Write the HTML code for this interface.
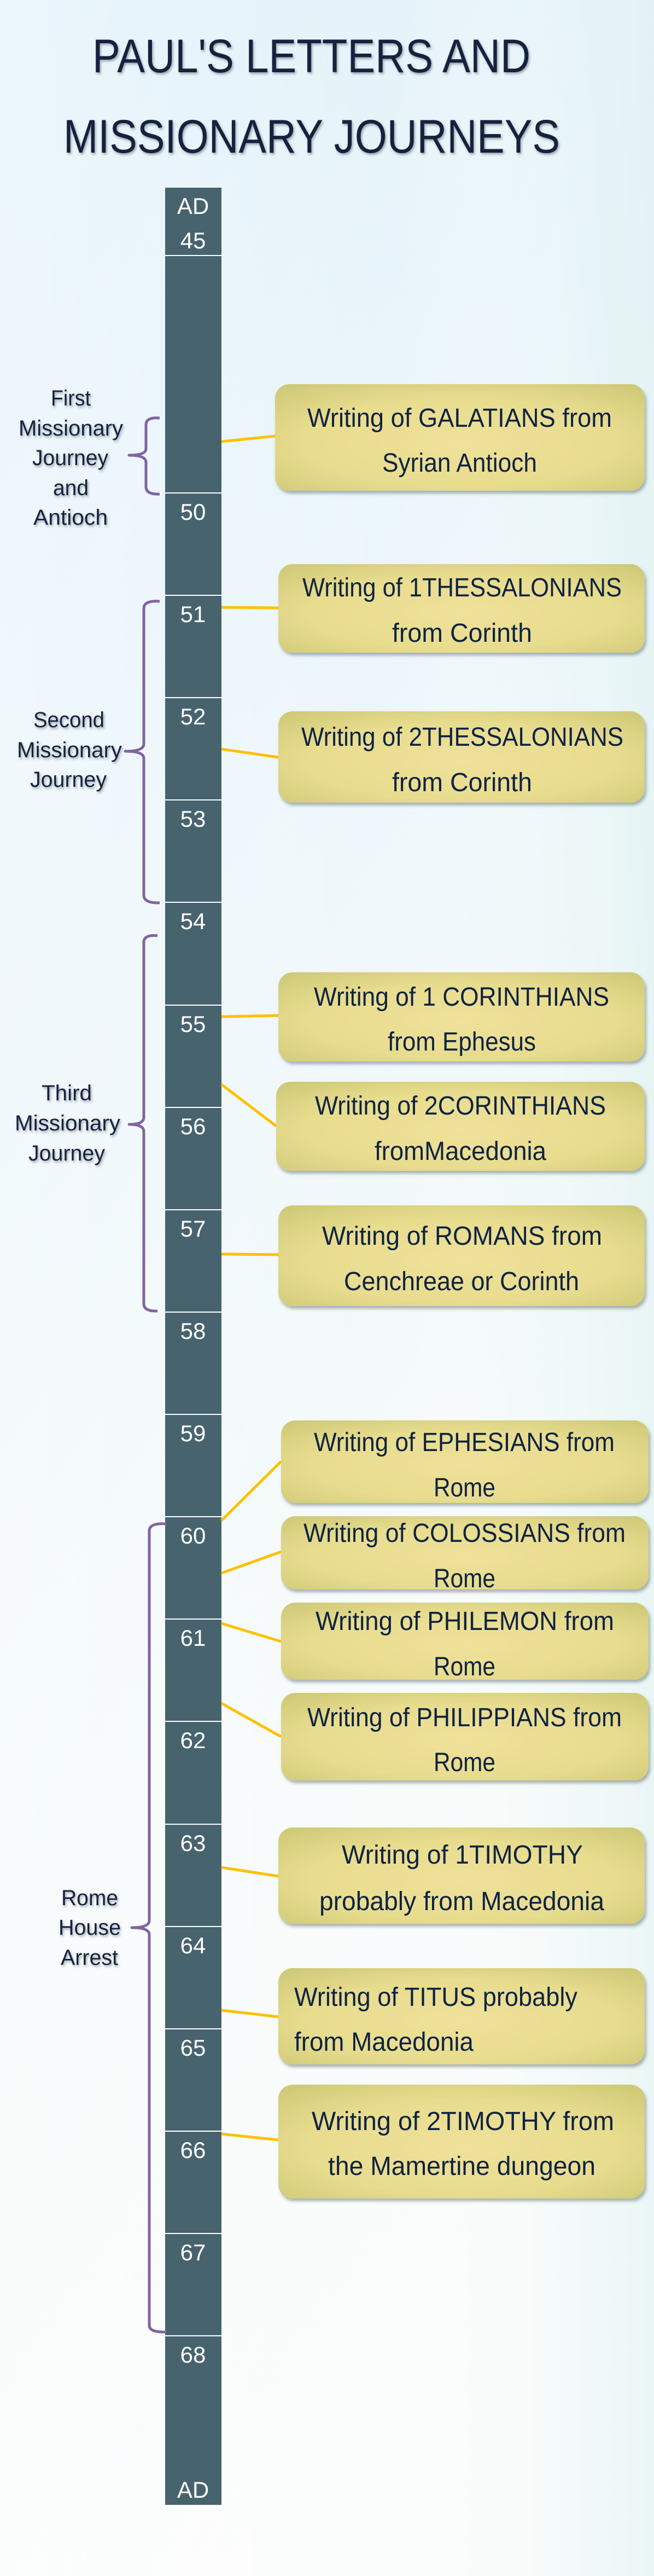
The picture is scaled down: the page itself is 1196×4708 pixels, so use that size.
<!DOCTYPE html>
<html><head><meta charset="utf-8"><style>
html,body{margin:0;padding:0}
body{width:1196px;height:4708px;overflow:hidden}
svg{display:block}
text{font-family:"Liberation Sans",sans-serif}
</style></head><body>
<svg width="1196" height="4708" viewBox="0 0 1196 4708" xmlns="http://www.w3.org/2000/svg">
<defs>
<linearGradient id="bg" x1="0" y1="0" x2="0.35" y2="1">
<stop offset="0" stop-color="#dff0fa"/>
<stop offset="0.45" stop-color="#eef7fb"/>
<stop offset="0.75" stop-color="#f7fbfb"/>
<stop offset="1" stop-color="#fbfdfc"/>
</linearGradient>
<linearGradient id="bg2" x1="0" y1="0" x2="1" y2="0">
<stop offset="0" stop-color="#ffffff" stop-opacity="0.35"/>
<stop offset="0.6" stop-color="#ffffff" stop-opacity="0"/>
<stop offset="1" stop-color="#d9efee" stop-opacity="0.5"/>
</linearGradient>
<radialGradient id="bx" cx="0.5" cy="0.55" r="0.7">
<stop offset="0" stop-color="#efe19a"/>
<stop offset="0.6" stop-color="#e8dc8e"/>
<stop offset="1" stop-color="#cfca78"/>
</radialGradient>
<filter id="sh" x="-5%" y="-10%" width="115%" height="130%">
<feDropShadow dx="3" dy="5" stdDeviation="3" flood-color="#4a5a60" flood-opacity="0.45"/>
</filter>
<filter id="ts" x="-5%" y="-20%" width="110%" height="140%">
<feDropShadow dx="2" dy="3" stdDeviation="2" flood-color="#304050" flood-opacity="0.45"/>
</filter>
</defs>
<rect width="1196" height="4708" fill="url(#bg)"/>
<rect width="1196" height="4708" fill="url(#bg2)"/>

<!-- Title -->
<g fill="#13223d" filter="url(#ts)" font-size="86">
<text x="169" y="132" textLength="801" lengthAdjust="spacingAndGlyphs">PAUL'S LETTERS AND</text>
<text x="116" y="279" textLength="908" lengthAdjust="spacingAndGlyphs">MISSIONARY JOURNEYS</text>
</g>

<!-- Bar -->
<rect x="302" y="343" width="103" height="4235" fill="#47636e"/>
<g stroke="#ffffff" stroke-width="2">
<line x1="302" y1="467" x2="405" y2="467"/>
<line x1="302" y1="901" x2="405" y2="901"/>
<line x1="302" y1="1088" x2="405" y2="1088"/>
<line x1="302" y1="1275" x2="405" y2="1275"/>
<line x1="302" y1="1462" x2="405" y2="1462"/>
<line x1="302" y1="1649" x2="405" y2="1649"/>
<line x1="302" y1="1837" x2="405" y2="1837"/>
<line x1="302" y1="2024" x2="405" y2="2024"/>
<line x1="302" y1="2211" x2="405" y2="2211"/>
<line x1="302" y1="2398" x2="405" y2="2398"/>
<line x1="302" y1="2585" x2="405" y2="2585"/>
<line x1="302" y1="2772" x2="405" y2="2772"/>
<line x1="302" y1="2959" x2="405" y2="2959"/>
<line x1="302" y1="3146" x2="405" y2="3146"/>
<line x1="302" y1="3334" x2="405" y2="3334"/>
<line x1="302" y1="3521" x2="405" y2="3521"/>
<line x1="302" y1="3708" x2="405" y2="3708"/>
<line x1="302" y1="3895" x2="405" y2="3895"/>
<line x1="302" y1="4082" x2="405" y2="4082"/>
<line x1="302" y1="4269" x2="405" y2="4269"/>
</g>
<g fill="#ffffff" font-size="42" text-anchor="middle">
<text x="353" y="391">AD</text>
<text x="353" y="454">45</text>
<text x="353" y="950">50</text>
<text x="353" y="1137">51</text>
<text x="353" y="1324">52</text>
<text x="353" y="1511">53</text>
<text x="353" y="1698">54</text>
<text x="353" y="1886">55</text>
<text x="353" y="2073">56</text>
<text x="353" y="2260">57</text>
<text x="353" y="2447">58</text>
<text x="353" y="2634">59</text>
<text x="353" y="2821">60</text>
<text x="353" y="3008">61</text>
<text x="353" y="3195">62</text>
<text x="353" y="3383">63</text>
<text x="353" y="3570">64</text>
<text x="353" y="3757">65</text>
<text x="353" y="3944">66</text>
<text x="353" y="4131">67</text>
<text x="353" y="4318">68</text>
<text x="353" y="4565">AD</text>
</g>

<!-- Connectors -->
<g stroke="#ffc000" stroke-width="5" fill="none">
<line x1="405" y1="807" x2="503" y2="797"/>
<line x1="405" y1="1110" x2="509" y2="1111"/>
<line x1="405" y1="1369" x2="509" y2="1384"/>
<line x1="405" y1="1858" x2="509" y2="1856"/>
<line x1="405" y1="1982" x2="505" y2="2058"/>
<line x1="405" y1="2292" x2="509" y2="2293"/>
<line x1="405" y1="2779" x2="514" y2="2671"/>
<line x1="405" y1="2875" x2="514" y2="2836"/>
<line x1="405" y1="2967" x2="514" y2="3000"/>
<line x1="405" y1="3113" x2="514" y2="3174"/>
<line x1="405" y1="3413" x2="509" y2="3429"/>
<line x1="405" y1="3674" x2="509" y2="3686"/>
<line x1="405" y1="3900" x2="509" y2="3911"/>
</g>

<!-- Boxes -->
<g fill="url(#bx)" filter="url(#sh)">
<rect x="503" y="702" width="676" height="195" rx="26"/>
<rect x="509" y="1031" width="670" height="162" rx="26"/>
<rect x="509" y="1300" width="670" height="167" rx="26"/>
<rect x="509" y="1777" width="670" height="163" rx="26"/>
<rect x="505" y="1977" width="674" height="163" rx="26"/>
<rect x="509" y="2203" width="670" height="184" rx="26"/>
<rect x="514" y="2596" width="672" height="151" rx="26"/>
<rect x="514" y="2771" width="672" height="134" rx="26"/>
<rect x="514" y="2929" width="672" height="141" rx="26"/>
<rect x="514" y="3094" width="672" height="160" rx="26"/>
<rect x="509" y="3340" width="670" height="176" rx="26"/>
<rect x="509" y="3597" width="670" height="176" rx="26"/>
<rect x="509" y="3810" width="670" height="208" rx="26"/>
</g>

<g fill="#0f2340" font-size="48">
<text x="562" y="780" textLength="557" lengthAdjust="spacingAndGlyphs">Writing of GALATIANS from</text>
<text x="699" y="862" textLength="283" lengthAdjust="spacingAndGlyphs">Syrian Antioch</text>
<text x="553" y="1090" textLength="584" lengthAdjust="spacingAndGlyphs">Writing of 1THESSALONIANS</text>
<text x="717" y="1173" textLength="256" lengthAdjust="spacingAndGlyphs">from Corinth</text>
<text x="551" y="1363" textLength="589" lengthAdjust="spacingAndGlyphs">Writing of 2THESSALONIANS</text>
<text x="717" y="1446" textLength="256" lengthAdjust="spacingAndGlyphs">from Corinth</text>
<text x="574" y="1838" textLength="540" lengthAdjust="spacingAndGlyphs">Writing of 1 CORINTHIANS</text>
<text x="709" y="1920" textLength="271" lengthAdjust="spacingAndGlyphs">from Ephesus</text>
<text x="576" y="2037" textLength="532" lengthAdjust="spacingAndGlyphs">Writing of 2CORINTHIANS</text>
<text x="685" y="2120" textLength="314" lengthAdjust="spacingAndGlyphs">fromMacedonia</text>
<text x="589" y="2275" textLength="512" lengthAdjust="spacingAndGlyphs">Writing of ROMANS from</text>
<text x="629" y="2358" textLength="430" lengthAdjust="spacingAndGlyphs">Cenchreae or Corinth</text>
<text x="574" y="2652" textLength="550" lengthAdjust="spacingAndGlyphs">Writing of EPHESIANS from</text>
<text x="793" y="2735" textLength="113" lengthAdjust="spacingAndGlyphs">Rome</text>
<text x="555" y="2818" textLength="589" lengthAdjust="spacingAndGlyphs">Writing of COLOSSIANS from</text>
<text x="793" y="2901" textLength="113" lengthAdjust="spacingAndGlyphs">Rome</text>
<text x="577" y="2979" textLength="546" lengthAdjust="spacingAndGlyphs">Writing of PHILEMON from</text>
<text x="793" y="3062" textLength="113" lengthAdjust="spacingAndGlyphs">Rome</text>
<text x="562" y="3155" textLength="575" lengthAdjust="spacingAndGlyphs">Writing of PHILIPPIANS from</text>
<text x="793" y="3237" textLength="113" lengthAdjust="spacingAndGlyphs">Rome</text>
<text x="625" y="3406" textLength="441" lengthAdjust="spacingAndGlyphs">Writing of  1TIMOTHY</text>
<text x="584" y="3491" textLength="521" lengthAdjust="spacingAndGlyphs">probably from Macedonia</text>
<text x="538" y="3666" textLength="518" lengthAdjust="spacingAndGlyphs">Writing of TITUS probably</text>
<text x="538" y="3748" textLength="328" lengthAdjust="spacingAndGlyphs">from Macedonia</text>
<text x="570" y="3893" textLength="553" lengthAdjust="spacingAndGlyphs">Writing of  2TIMOTHY from</text>
<text x="600" y="3975" textLength="489" lengthAdjust="spacingAndGlyphs">the Mamertine dungeon</text>
</g>

<!-- Brackets -->
<g stroke="#8064a2" stroke-width="5" fill="none" stroke-linejoin="round">
<path d="M292 764 Q267 762 267 776 L267 820 Q267 832 236 832 Q267 832 267 845 L267 890 Q267 904 292 903"/>
<path d="M292 1099 Q263 1097 263 1112 L263 1360 Q263 1373 229 1373 Q263 1373 263 1386 L263 1636 Q263 1651 292 1650"/>
<path d="M288 1710 Q263 1708 263 1722 L263 2042 Q263 2055 236 2055 Q263 2055 263 2068 L263 2383 Q263 2397 288 2396"/>
<path d="M304 2785 Q273 2783 273 2798 L273 3510 Q273 3523 241 3523 Q273 3523 273 3536 L273 4250 Q273 4263 304 4262"/>
</g>

<!-- Left labels -->
<g fill="#13223d" font-size="40" filter="url(#ts)">
<text x="93" y="741" textLength="73" lengthAdjust="spacingAndGlyphs">First</text>
<text x="34" y="796" textLength="191" lengthAdjust="spacingAndGlyphs">Missionary</text>
<text x="59" y="850" textLength="139" lengthAdjust="spacingAndGlyphs">Journey</text>
<text x="97" y="905" textLength="65" lengthAdjust="spacingAndGlyphs">and</text>
<text x="61" y="959" textLength="136" lengthAdjust="spacingAndGlyphs">Antioch</text>
<text x="61" y="1329" textLength="130" lengthAdjust="spacingAndGlyphs">Second</text>
<text x="31" y="1384" textLength="192" lengthAdjust="spacingAndGlyphs">Missionary</text>
<text x="55" y="1438" textLength="140" lengthAdjust="spacingAndGlyphs">Journey</text>
<text x="76" y="2011" textLength="92" lengthAdjust="spacingAndGlyphs">Third</text>
<text x="27" y="2066" textLength="193" lengthAdjust="spacingAndGlyphs">Missionary</text>
<text x="52" y="2121" textLength="140" lengthAdjust="spacingAndGlyphs">Journey</text>
<text x="112" y="3482" textLength="104" lengthAdjust="spacingAndGlyphs">Rome</text>
<text x="107" y="3536" textLength="114" lengthAdjust="spacingAndGlyphs">House</text>
<text x="111" y="3591" textLength="105" lengthAdjust="spacingAndGlyphs">Arrest</text>
</g>
</svg>
</body></html>
